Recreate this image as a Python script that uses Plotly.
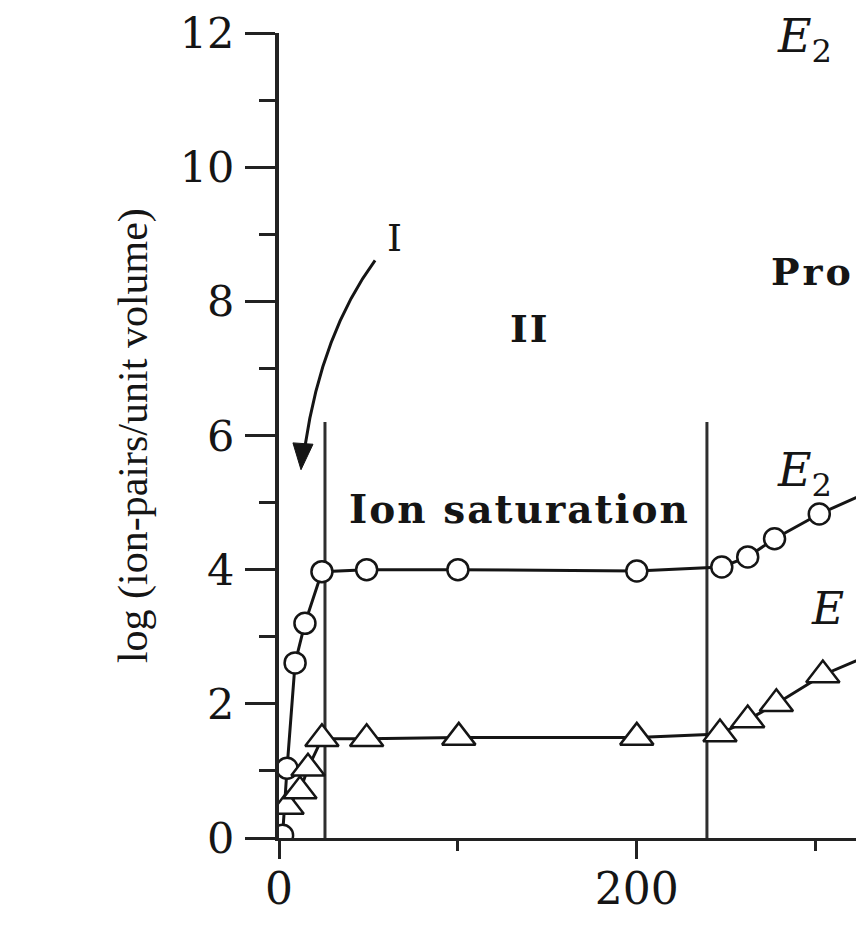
import plotly.graph_objects as go

# ---- data ----
voltage_e2 = [2, 4.5, 9, 14.5, 24, 49, 100, 200, 247.5, 262, 277, 302, 335]
log_ions_e2 = [0.04, 1.04, 2.61, 3.2, 3.97, 4.0, 4.0, 3.98, 4.04, 4.19, 4.46, 4.83, 5.22]

voltage_e1 = [4.5, 11.7, 16.2, 24, 49, 100.5, 200, 246.5, 262, 278, 304, 335]
log_ions_e1 = [0.47, 0.70, 1.04, 1.48, 1.48, 1.50, 1.50, 1.55, 1.76, 2.0, 2.43, 2.78]

region_bounds = [25.7, 239.2]
region_bound_top = 6.2

x_major_ticks = [0, 200]
y_major_ticks = [0, 2, 4, 6, 8, 10, 12]

y_title = "log (ion-pairs/unit volume)"

INK = "#151515"
SERIF = "DejaVu Serif"

fig = go.Figure()

for xb in region_bounds:
    fig.add_shape(type="line", xref="x", yref="y", x0=xb, x1=xb, y0=0, y1=region_bound_top,
                  line=dict(color="#2e2e2e", width=3), layer="below")

fig.add_trace(go.Scatter(
    x=voltage_e2, y=log_ions_e2, mode="lines+markers", name="E2",
    line=dict(color=INK, width=3),
    marker=dict(symbol="circle", size=21, color="white", line=dict(color=INK, width=2.5)),
    cliponaxis=True, showlegend=False))

fig.add_trace(go.Scatter(
    x=voltage_e1, y=log_ions_e1, mode="lines+markers", name="E1",
    line=dict(color=INK, width=3),
    marker=dict(symbol="triangle-up", size=29, color="white", line=dict(color=INK, width=2.5)),
    cliponaxis=True, showlegend=False))

# curved arrow pointing to region I
fig.add_shape(type="path", xref="x", yref="y",
              path="M 53.7,8.61 Q 24,7.53 14.6,5.85",
              line=dict(color=INK, width=3))
fig.add_shape(type="path", xref="x", yref="y",
              path="M 12.3,5.49 L 7.8,5.89 L 19.0,5.87 Z",
              fillcolor=INK, line=dict(color=INK, width=1))

def label(text, x, y, size, xanchor="center", bold=False, family=SERIF):
    fig.add_annotation(text=text, x=x, y=y, xref="x", yref="y", showarrow=False,
                       xanchor=xanchor, yanchor="middle",
                       font=dict(family=family, size=size, color=INK,
                                 weight="bold" if bold else "normal"))

label("<i>E</i><sub>2</sub>", 294.0, 11.9, 46)
label('<span style="letter-spacing:3px">Pro</span>', 273.9, 8.44, 38, xanchor="left", bold=True)
label('<span style="letter-spacing:2px">II</span>', 140.5, 7.6, 38, bold=True)
label("I", 64.3, 8.95, 38)
label('<span style="letter-spacing:2px">Ion saturation</span>', 134.7, 4.9, 39, bold=True)
label("<i>E</i><sub>2</sub>", 294.0, 5.43, 46)
label("<i>E</i>", 296.0, 3.42, 44, xanchor="left")

fig.add_annotation(text=y_title, textangle=-90, xref="paper", yref="paper",
                   x=-0.2496, y=0.5005, xanchor="center", yanchor="middle", showarrow=False,
                   font=dict(family="Liberation Serif", size=42, color=INK))

fig.update_layout(
    width=856, height=944,
    margin=dict(l=271, r=0, t=20, b=114),
    paper_bgcolor="white", plot_bgcolor="white",
    showlegend=False,
    xaxis=dict(range=[0, 327], tickvals=x_major_ticks, showgrid=False, zeroline=False,
               showline=True, linecolor="#222", linewidth=3,
               ticks="outside", ticklen=18, tickwidth=3, tickcolor="#222",
               ticklabelstandoff=-8, ticklabeloverflow="allow",
               minor=dict(dtick=100, ticks="outside", ticklen=10, tickwidth=3, tickcolor="#222"),
               tickfont=dict(family=SERIF, size=44, color=INK)),
    yaxis=dict(range=[0, 12], tickvals=y_major_ticks, showgrid=False, zeroline=False,
               showline=True, linecolor="#222", linewidth=4,
               ticks="outside", ticklen=30, tickwidth=3, tickcolor="#222",
               ticklabelstandoff=2, ticklabeloverflow="allow",
               minor=dict(dtick=1, ticks="outside", ticklen=16, tickwidth=3, tickcolor="#222"),
               tickfont=dict(family=SERIF, size=43, color=INK)),
)

fig.write_html("out.html")
